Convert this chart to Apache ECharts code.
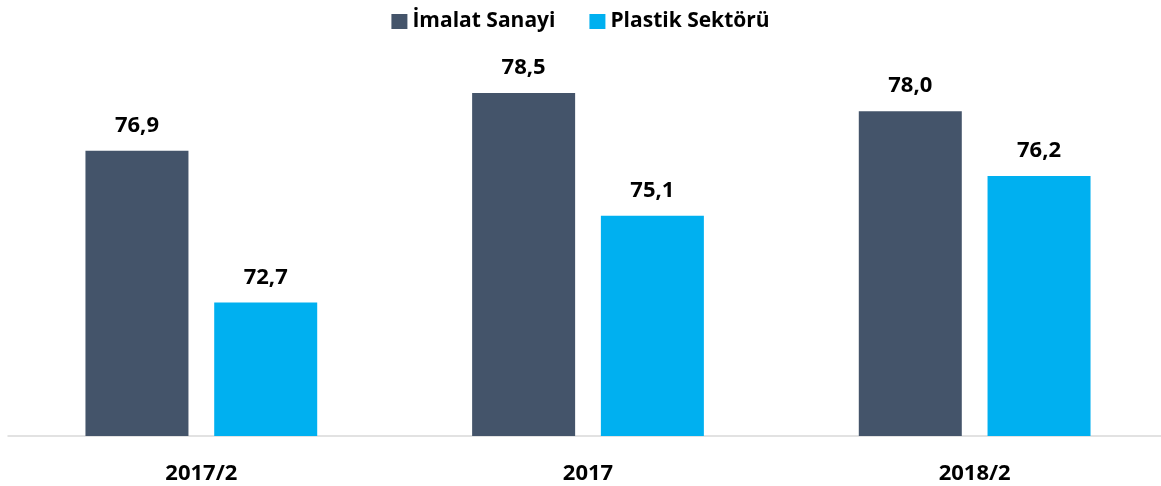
<!DOCTYPE html>
<html lang="tr">

<head>
  <meta charset="UTF-8" />
  <title>İmalat Sanayi ve Plastik Sektörü</title>
  <script src="https://cdn.jsdelivr.net/npm/echarts@6/dist/echarts.min.js"></script>
  <style>
    html,
    body {
      margin: 0;
      padding: 0;
      background: #fff;
    }

    #chart {
      width: 1161px;
      height: 486px;
    }
  </style>
</head>

<body>
  <div id="chart"></div>

  <script>
    // Veriler
    const categories = ['2017/2', '2017', '2018/2'];
    const imalatSanayi = [76.9, 78.5, 78.0];
    const plastikSektoru = [72.7, 75.1, 76.2];

    const chart = echarts.init(document.getElementById('chart'));
    const fontFamily = '"Open Sans", "Noto Sans", sans-serif';

    const valueLabel = {
      show: true,
      position: 'top',
      distance: 14,
      color: '#000',
      fontFamily: fontFamily,
      fontWeight: 'bold',
      fontSize: 22,
      formatter: p => p.value.toFixed(1).replace('.', ',')
    };

    const option = {
      animation: false,
      legend: {
        top: 6,
        left: 'center',
        itemWidth: 16,
        itemHeight: 15,
        itemGap: 34,
        icon: 'rect',
        textStyle: {
          color: '#000',
          fontFamily: fontFamily,
          fontWeight: 'bold',
          fontSize: 21
        },
        data: ['İmalat Sanayi', 'Plastik Sektörü']
      },
      grid: {
        left: 8,
        width: 1160,
        top: 57,
        bottom: 50,
        containLabel: false,
        outerBoundsMode: 'none'
      },
      xAxis: {
        type: 'category',
        data: categories,
        axisTick: { show: false },
        axisLine: { lineStyle: { color: '#d9d9d9', width: 1.5 } },
        axisLabel: {
          margin: 27,
          color: '#000',
          fontFamily: fontFamily,
          fontWeight: 'bold',
          fontSize: 22
        }
      },
      yAxis: {
        type: 'value',
        min: 69,
        max: 79.5,
        show: false,
        splitLine: { show: false }
      },
      series: [
        {
          name: 'İmalat Sanayi',
          type: 'bar',
          data: imalatSanayi,
          barWidth: 103,
          barGap: '25%',
          itemStyle: { color: '#44546A' },
          label: valueLabel
        },
        {
          name: 'Plastik Sektörü',
          type: 'bar',
          data: plastikSektoru,
          barWidth: 103,
          itemStyle: { color: '#00B0F0' },
          label: valueLabel
        }
      ]
    };

    chart.setOption(option);
  </script>
</body>

</html>
